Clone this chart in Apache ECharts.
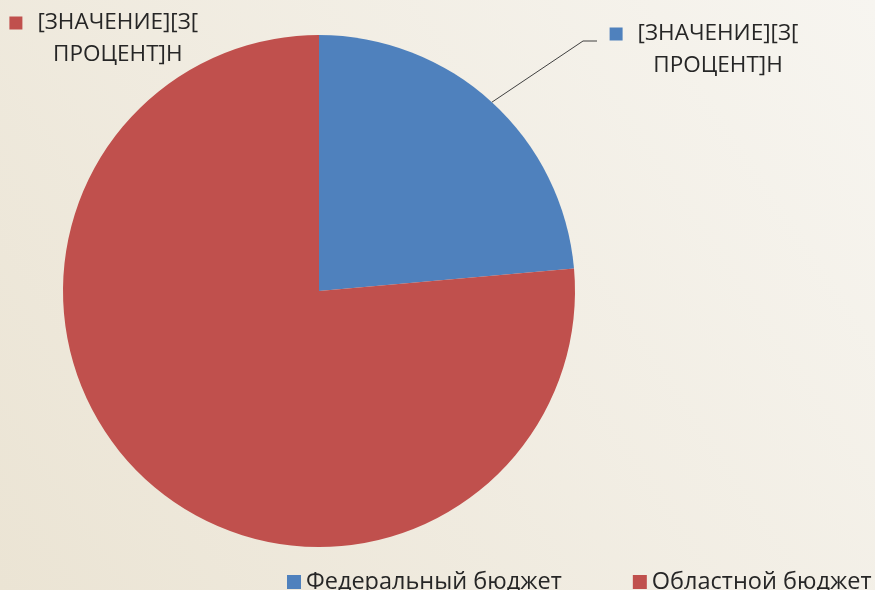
<!DOCTYPE html>
<html>
<head>
<meta charset="utf-8">
<script src="https://cdn.jsdelivr.net/npm/echarts@6/dist/echarts.min.js"></script>
<style>
  html, body { margin: 0; padding: 0; }
  #chart { width: 875px; height: 590px; }
</style>
</head>
<body>
<div id="chart"></div>
<script>
// данные диаграммы
const categories = ['Федеральный бюджет', 'Областной бюджет']
const values = [23.6, 76.4]
const colors = ['#4f81bd', '#c0504d']
const labelTexts = [['[ЗНАЧЕНИЕ][З[', 'ПРОЦЕНТ]Н'], ['[ЗНАЧЕНИЕ][З[', 'ПРОЦЕНТ]Н']]

// позиции подписей (левый верхний угол)
const labelPos = [[609, 18], [10, 7]]
const labelWidth = 190

const font = '"Open Sans", sans-serif'
const chart = echarts.init(document.getElementById('chart'))

const seriesData = categories.map(function (name, i) {
  return {
    name: name,
    value: values[i],
    itemStyle: { color: colors[i] },
    labelLine: { show: i === 0 },
    label: {
      formatter: '{m' + i + '|}{g|}{t|' + labelTexts[i][0] + '}\n{s|}{t|' + labelTexts[i][1] + '}'
    }
  }
})

const rich = {
  g: { width: 15, align: 'center' },
  s: { width: 28, align: 'center' },
  t: { fontSize: 22.5, fontFamily: font, color: '#262626', lineHeight: 32, align: 'center' }
}
colors.forEach(function (c, i) {
  rich['m' + i] = { width: 13, height: 13, backgroundColor: c, align: 'center' }
})

chart.setOption({
  backgroundColor: new echarts.graphic.LinearGradient(0, 1, 1, 0, [
    { offset: 0, color: '#ebe4d4' },
    { offset: 1, color: '#f7f5f0' }
  ]),
  animation: false,
  legend: {
    data: categories,
    left: 287,
    top: 570,
    width: 620,
    padding: 0,
    icon: 'rect',
    itemWidth: 14,
    itemHeight: 14,
    itemGap: 71,
    selectedMode: false,
    textStyle: { fontSize: 23.5, fontFamily: font, color: '#262626' }
  },
  series: [{
    type: 'pie',
    center: [319, 291],
    radius: 256,
    startAngle: 90,
    clockwise: true,
    emphasis: { disabled: true },
    label: {
      show: true,
      position: 'outside',
      width: labelWidth,
      overflow: 'none',
      rich: rich
    },
    labelLine: {
      lineStyle: { color: '#404040', width: 1 },
      smooth: false
    },
    labelLayout: function (params) {
      const p = labelPos[params.dataIndex]
      const w = params.labelRect.width
      let x = p[0]
      if (params.align === 'right') x = p[0] + w
      else if (params.align === 'center') x = p[0] + w / 2
      const res = { x: x, y: p[1], verticalAlign: 'top' }
      if (params.labelLinePoints) {
        const start = params.labelLinePoints[0]
        res.labelLinePoints = [start, [p[0] - 26, p[1] + 23], [p[0] - 12, p[1] + 23]]
      }
      return res
    },
    data: seriesData
  }]
})
</script>
</body>
</html>
